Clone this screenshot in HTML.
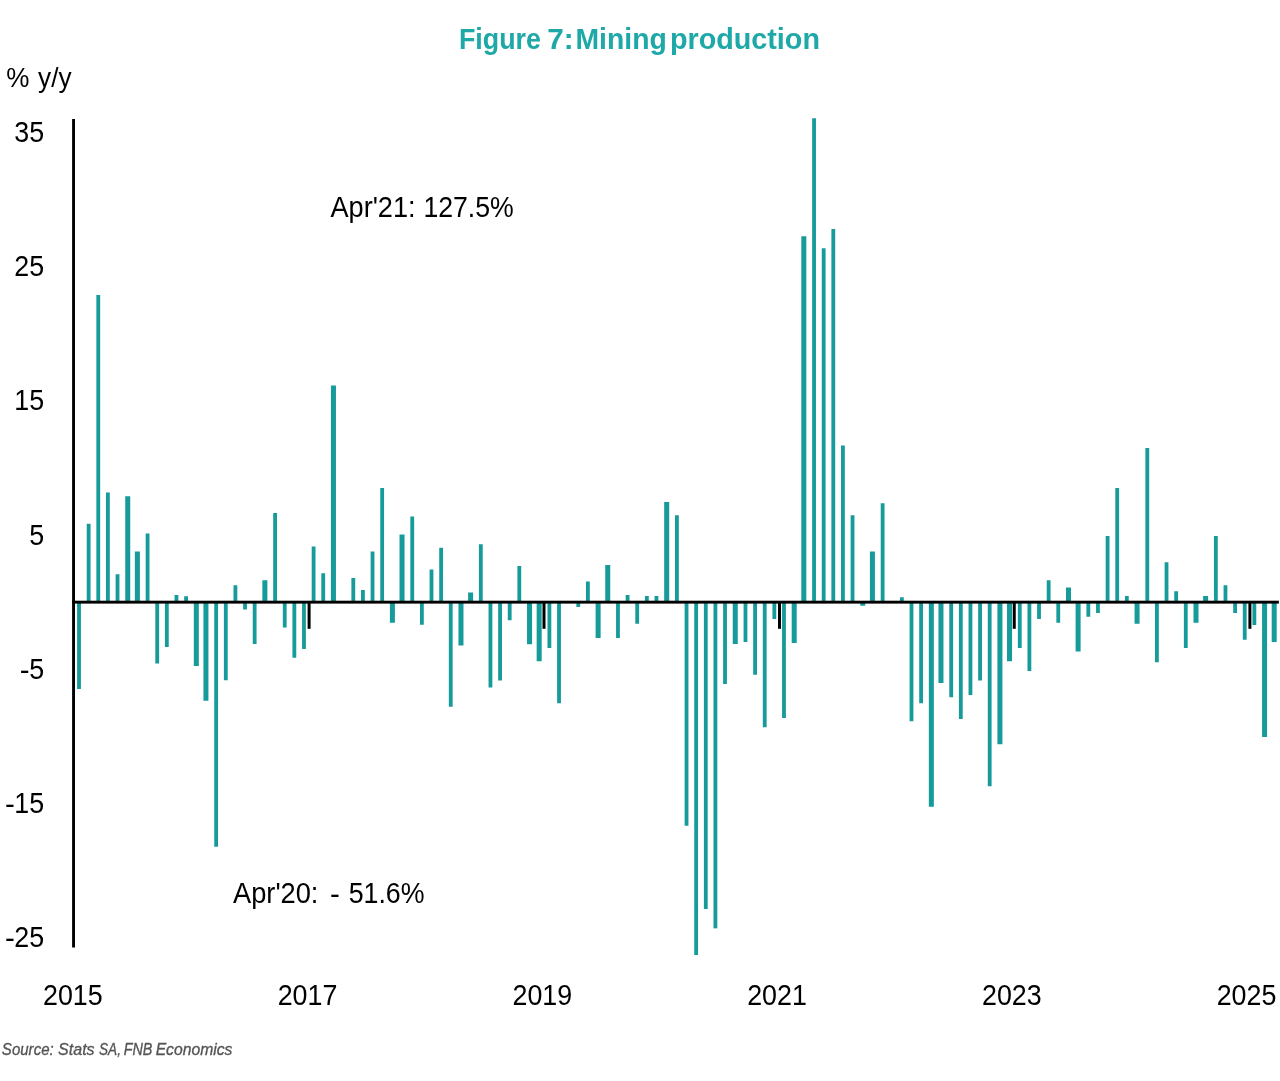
<!DOCTYPE html>
<html lang="en">
<head>
<meta charset="utf-8">
<title>Figure 7: Mining production</title>
<style>
html,body{margin:0;padding:0;background:#fff;}
body{width:1280px;height:1081px;overflow:hidden;}
svg{display:block;}
text{font-family:"Liberation Sans",sans-serif;}
.ax{font-size:26.67px;fill:#000;}
.ttl{font-weight:bold;font-size:28px;fill:#1fa8a8;}
.src{font-style:italic;font-size:18px;fill:#555555;stroke:#555555;stroke-width:0.35px;}
</style>
</head>
<body>
<svg width="1280" height="1081" viewBox="0 0 1280 1081" role="img" aria-label="Figure 7: Mining production">
<rect width="1280" height="1081" fill="#fff"/>
<g class="ttl">
<text transform="translate(0 49) scale(1 1.0642)"><tspan x="458.92" y="0" textLength="82.05" lengthAdjust="spacingAndGlyphs">Figure</tspan> <tspan x="547.17" y="0" textLength="26.39" lengthAdjust="spacingAndGlyphs">7:</tspan> <tspan x="575.53" y="0" textLength="91.28" lengthAdjust="spacingAndGlyphs">Mining</tspan> <tspan x="669.9" y="0" textLength="150.09" lengthAdjust="spacingAndGlyphs">production</tspan></text>
</g>
<g class="ax">
<text transform="translate(0 87) scale(1 1.07)"><tspan x="6.38" y="0" textLength="23.19" lengthAdjust="spacingAndGlyphs">%</tspan> <tspan x="38.1" y="0" textLength="33.5" lengthAdjust="spacingAndGlyphs">y/y</tspan></text>
<text transform="translate(0 142) scale(1 1.1)"><tspan x="14.37" y="0" textLength="29.81" lengthAdjust="spacingAndGlyphs">35</tspan></text>
<text transform="translate(0 276) scale(1 1.1)"><tspan x="14.37" y="0" textLength="29.81" lengthAdjust="spacingAndGlyphs">25</tspan></text>
<text transform="translate(0 410) scale(1 1.1)"><tspan x="14.37" y="0" textLength="29.81" lengthAdjust="spacingAndGlyphs">15</tspan></text>
<text transform="translate(0 545) scale(1 1.1)"><tspan x="29.28" y="0" textLength="14.91" lengthAdjust="spacingAndGlyphs">5</tspan></text>
<text transform="translate(0 679) scale(1 1.1)"><tspan x="19.88" y="1" textLength="9.84" lengthAdjust="spacingAndGlyphs">-</tspan><tspan x="29.28" y="0" textLength="14.91" lengthAdjust="spacingAndGlyphs">5</tspan></text>
<text transform="translate(0 813) scale(1 1.1)"><tspan x="4.98" y="1" textLength="9.84" lengthAdjust="spacingAndGlyphs">-</tspan><tspan x="14.37" y="0" textLength="29.81" lengthAdjust="spacingAndGlyphs">15</tspan></text>
<text transform="translate(0 947) scale(1 1.1)"><tspan x="4.98" y="1" textLength="9.84" lengthAdjust="spacingAndGlyphs">-</tspan><tspan x="14.37" y="0" textLength="29.81" lengthAdjust="spacingAndGlyphs">25</tspan></text>
<text transform="translate(0 1005) scale(1 1.1)"><tspan x="43" y="0" textLength="59.63" lengthAdjust="spacingAndGlyphs">2015</tspan></text>
<text transform="translate(0 1005) scale(1 1.1)"><tspan x="277.7" y="0" textLength="59.63" lengthAdjust="spacingAndGlyphs">2017</tspan></text>
<text transform="translate(0 1005) scale(1 1.1)"><tspan x="512.5" y="0" textLength="59.63" lengthAdjust="spacingAndGlyphs">2019</tspan></text>
<text transform="translate(0 1005) scale(1 1.1)"><tspan x="747.2" y="0" textLength="59.63" lengthAdjust="spacingAndGlyphs">2021</tspan></text>
<text transform="translate(0 1005) scale(1 1.1)"><tspan x="982" y="0" textLength="59.63" lengthAdjust="spacingAndGlyphs">2023</tspan></text>
<text transform="translate(0 1005) scale(1 1.1)"><tspan x="1216.7" y="0" textLength="59.63" lengthAdjust="spacingAndGlyphs">2025</tspan></text>
<text transform="translate(0 217) scale(1 1.1)"><tspan x="330.5" y="0" textLength="85.05" lengthAdjust="spacingAndGlyphs">Apr'21:</tspan> <tspan x="423.43" y="0" textLength="90.36" lengthAdjust="spacingAndGlyphs">127.5%</tspan></text>
<text transform="translate(0 903) scale(1 1.1)"><tspan x="233" y="0" textLength="85.46" lengthAdjust="spacingAndGlyphs">Apr'20:</tspan> <tspan x="329.98" y="1" textLength="9.84" lengthAdjust="spacingAndGlyphs">-</tspan> <tspan x="348.66" y="0" textLength="75.88" lengthAdjust="spacingAndGlyphs">51.6%</tspan></text>
</g>
<g fill="#169b9a">
<rect x="77.11" y="602" width="3.81" height="87"/>
<rect x="86.74" y="523.75" width="3.81" height="78.25"/>
<rect x="96.36" y="295" width="3.81" height="307"/>
<rect x="105.98" y="492.5" width="3.81" height="109.5"/>
<rect x="115.61" y="574.25" width="3.81" height="27.75"/>
<rect x="125.23" y="496.25" width="5.01" height="105.75"/>
<rect x="134.86" y="551.5" width="5.01" height="50.5"/>
<rect x="145.68" y="533.5" width="3.81" height="68.5"/>
<rect x="155.31" y="602" width="3.81" height="61.5"/>
<rect x="164.93" y="602" width="3.81" height="45"/>
<rect x="174.56" y="595" width="3.8" height="7"/>
<rect x="184.18" y="596.25" width="3.81" height="5.75"/>
<rect x="193.8" y="602" width="5.02" height="64"/>
<rect x="203.43" y="602" width="5.01" height="98.75"/>
<rect x="214.25" y="602" width="3.81" height="244.75"/>
<rect x="223.88" y="602" width="3.81" height="78.25"/>
<rect x="233.5" y="585.25" width="3.81" height="16.75"/>
<rect x="243.13" y="602" width="3.81" height="7.5"/>
<rect x="252.75" y="602" width="3.81" height="42"/>
<rect x="262.37" y="580.25" width="5.02" height="21.75"/>
<rect x="273.2" y="513" width="3.81" height="89"/>
<rect x="282.83" y="602" width="3.8" height="25.5"/>
<rect x="292.45" y="602" width="3.81" height="55.75"/>
<rect x="302.07" y="602" width="3.81" height="47"/>
<rect x="311.7" y="546.5" width="3.81" height="55.5"/>
<rect x="321.32" y="573.25" width="3.81" height="28.75"/>
<rect x="330.95" y="385.5" width="5.01" height="216.5"/>
<rect x="351.4" y="578" width="3.81" height="24"/>
<rect x="361.02" y="590" width="3.81" height="12"/>
<rect x="370.64" y="551.5" width="3.81" height="50.5"/>
<rect x="380.27" y="488" width="3.81" height="114"/>
<rect x="389.89" y="602" width="5.01" height="20.75"/>
<rect x="399.52" y="534.5" width="5.01" height="67.5"/>
<rect x="410.34" y="516.5" width="3.81" height="85.5"/>
<rect x="419.97" y="602" width="3.81" height="22.75"/>
<rect x="429.59" y="569.5" width="3.81" height="32.5"/>
<rect x="439.22" y="547.75" width="3.8" height="54.25"/>
<rect x="448.84" y="602" width="3.81" height="104.75"/>
<rect x="458.46" y="602" width="5.02" height="43.5"/>
<rect x="468.09" y="592.5" width="5.01" height="9.5"/>
<rect x="478.91" y="544.25" width="3.81" height="57.75"/>
<rect x="488.54" y="602" width="3.81" height="85.5"/>
<rect x="498.16" y="602" width="3.81" height="78.5"/>
<rect x="507.79" y="602" width="3.81" height="18.25"/>
<rect x="517.41" y="566" width="3.81" height="36"/>
<rect x="527.03" y="602" width="5.02" height="42.25"/>
<rect x="536.66" y="602" width="5.01" height="59.25"/>
<rect x="547.49" y="602" width="3.8" height="46"/>
<rect x="557.11" y="602" width="3.81" height="101.25"/>
<rect x="576.36" y="602" width="3.81" height="5"/>
<rect x="585.98" y="581.5" width="3.81" height="20.5"/>
<rect x="595.61" y="602" width="5.01" height="36"/>
<rect x="605.23" y="565" width="5.01" height="37"/>
<rect x="616.06" y="602" width="3.81" height="36"/>
<rect x="625.68" y="595" width="3.81" height="7"/>
<rect x="635.3" y="602" width="3.81" height="21.75"/>
<rect x="644.93" y="596" width="3.81" height="6"/>
<rect x="654.55" y="596" width="3.81" height="6"/>
<rect x="664.18" y="502" width="5.01" height="100"/>
<rect x="675" y="515.25" width="3.81" height="86.75"/>
<rect x="684.63" y="602" width="3.81" height="223.75"/>
<rect x="694.25" y="602" width="3.81" height="353"/>
<rect x="703.88" y="602" width="3.8" height="307"/>
<rect x="713.5" y="602" width="3.81" height="326.35"/>
<rect x="723.12" y="602" width="3.81" height="82"/>
<rect x="732.75" y="602" width="5.01" height="42"/>
<rect x="743.57" y="602" width="3.81" height="40"/>
<rect x="753.2" y="602" width="3.81" height="72.75"/>
<rect x="762.82" y="602" width="3.81" height="125.25"/>
<rect x="772.45" y="602" width="3.81" height="17"/>
<rect x="782.07" y="602" width="3.81" height="116"/>
<rect x="791.69" y="602" width="5.02" height="41"/>
<rect x="801.32" y="236.25" width="5.01" height="365.75"/>
<rect x="812.15" y="118.25" width="3.8" height="483.75"/>
<rect x="821.77" y="248.25" width="3.81" height="353.75"/>
<rect x="831.39" y="229" width="3.81" height="373"/>
<rect x="841.02" y="445.5" width="3.81" height="156.5"/>
<rect x="850.64" y="515.25" width="3.81" height="86.75"/>
<rect x="860.27" y="602" width="5.01" height="3.75"/>
<rect x="869.89" y="551.5" width="5.01" height="50.5"/>
<rect x="880.72" y="503.25" width="3.81" height="98.75"/>
<rect x="899.96" y="597.25" width="3.81" height="4.75"/>
<rect x="909.59" y="602" width="3.81" height="119.25"/>
<rect x="919.21" y="602" width="3.81" height="101.25"/>
<rect x="928.84" y="602" width="5.01" height="204.75"/>
<rect x="938.46" y="602" width="5.01" height="81"/>
<rect x="949.29" y="602" width="3.81" height="95.25"/>
<rect x="958.91" y="602" width="3.81" height="117"/>
<rect x="968.54" y="602" width="3.8" height="93"/>
<rect x="978.16" y="602" width="3.81" height="78.5"/>
<rect x="987.78" y="602" width="3.81" height="184.25"/>
<rect x="997.41" y="602" width="5.01" height="142.25"/>
<rect x="1007.03" y="602" width="5.01" height="59.25"/>
<rect x="1017.86" y="602" width="3.81" height="46"/>
<rect x="1027.48" y="602" width="3.81" height="69"/>
<rect x="1037.11" y="602" width="3.81" height="17"/>
<rect x="1046.73" y="580.25" width="3.81" height="21.75"/>
<rect x="1056.35" y="602" width="3.81" height="20.75"/>
<rect x="1065.98" y="587.5" width="5.01" height="14.5"/>
<rect x="1075.6" y="602" width="5.01" height="49.5"/>
<rect x="1086.43" y="602" width="3.81" height="14.75"/>
<rect x="1096.05" y="602" width="3.81" height="11"/>
<rect x="1105.68" y="536" width="3.81" height="66"/>
<rect x="1115.3" y="488" width="3.81" height="114"/>
<rect x="1124.93" y="596" width="3.8" height="6"/>
<rect x="1134.55" y="602" width="5.01" height="21.75"/>
<rect x="1145.38" y="448" width="3.81" height="154"/>
<rect x="1155" y="602" width="3.81" height="60.25"/>
<rect x="1164.62" y="562.25" width="3.81" height="39.75"/>
<rect x="1174.25" y="591.25" width="3.81" height="10.75"/>
<rect x="1183.87" y="602" width="3.81" height="46"/>
<rect x="1193.5" y="602" width="5.01" height="20.75"/>
<rect x="1203.12" y="596" width="5.01" height="6"/>
<rect x="1213.95" y="536" width="3.81" height="66"/>
<rect x="1223.57" y="585.25" width="3.81" height="16.75"/>
<rect x="1233.2" y="602" width="3.8" height="11"/>
<rect x="1242.82" y="602" width="3.81" height="37.75"/>
<rect x="1252.44" y="602" width="3.81" height="23"/>
<rect x="1262.07" y="602" width="5.01" height="135"/>
<rect x="1271.69" y="602" width="5.01" height="40"/>
</g>
<g fill="#000">
<rect x="72.1" y="119" width="2.9" height="828.5"/>
<rect x="72.1" y="600.7" width="1206.8" height="2.9"/>
<rect x="307.6" y="602" width="3" height="26.8"/>
<rect x="542.5" y="602" width="3" height="26.8"/>
<rect x="778" y="602" width="3" height="26.8"/>
<rect x="1012.75" y="602" width="3" height="26.8"/>
<rect x="1248.4" y="602" width="3" height="26.8"/>
</g>
<g class="src">
<text transform="translate(0 1055) scale(1 0.9367)"><tspan x="1.86" y="0" textLength="51.85" lengthAdjust="spacingAndGlyphs">Source:</tspan> <tspan x="58.05" y="0" textLength="36.6" lengthAdjust="spacingAndGlyphs">Stats</tspan> <tspan x="98.99" y="0" textLength="21.96" lengthAdjust="spacingAndGlyphs">SA,</tspan> <tspan x="123.68" y="0" textLength="28.7" lengthAdjust="spacingAndGlyphs">FNB</tspan> <tspan x="155.65" y="0" textLength="76.79" lengthAdjust="spacingAndGlyphs">Economics</tspan></text>
</g>
</svg>
</body>
</html>
